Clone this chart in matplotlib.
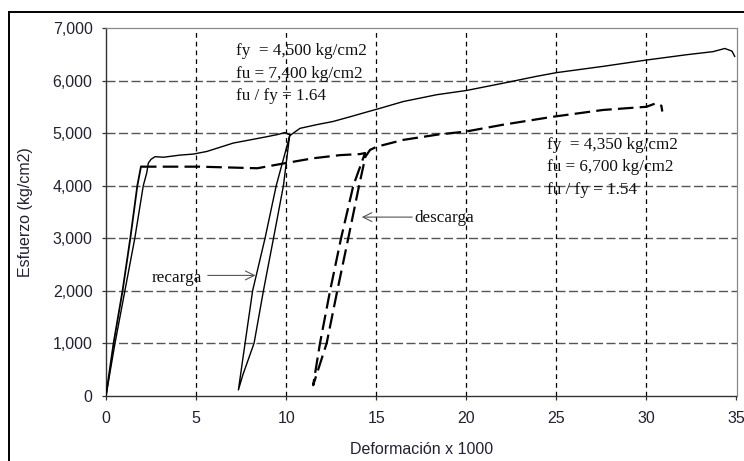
import matplotlib
matplotlib.use("Agg")
import matplotlib.pyplot as plt
from matplotlib.lines import Line2D
from matplotlib.ticker import FuncFormatter

# Specimen A (solid): loading, yield plateau, unload/reload loop, hardening
strain_a = [0, 0.5, 1.05, 1.6, 2.07, 2.26, 2.35, 2.5, 2.72, 3.2, 4.1, 4.85, 5.6,
            7.07, 8.0, 8.92, 9.5, 9.94, 10.1, 10.2,
            9.85, 9.3, 8.74, 8.22, 7.6, 7.35,
            7.72, 8.14, 8.83, 9.45, 10.2,
            10.4, 10.77, 11.7, 12.6, 13.55, 14.47, 15.2, 16.5, 18.36, 20.0,
            22.06, 23.9, 25.0, 27.6, 30.0, 32.2, 33.7, 34.35, 34.75, 34.9]
stress_a = [0, 1000, 2000, 3000, 4000, 4240, 4430, 4500, 4550, 4540, 4580, 4600, 4650,
            4810, 4870, 4930, 4970, 5010, 4980, 4970,
            4000, 3000, 2000, 1000, 400, 110,
            1000, 2000, 3000, 4000, 4950,
            5000, 5090, 5160, 5220, 5310, 5400, 5470, 5600, 5730, 5810,
            5950, 6080, 6150, 6270, 6390, 6490, 6550, 6610, 6560, 6460]

# Specimen B (dashed); the first segment is the elastic loading branch
strain_b = [0, 0.42, 0.92, 1.35, 1.74, 1.94, 2.0, 5.2, 8.4, 10.0, 11.5, 13.0, 14.1, 14.38,
            13.73, 13.05, 12.44, 11.88, 11.5,
            12.25, 12.84, 13.45, 14.05, 14.4, 14.66, 15.03, 16.5, 18.4, 20.0,
            22.06, 24.8, 27.6, 30.0, 30.55, 30.83, 30.88]
stress_b = [0, 1000, 2000, 3000, 4000, 4360, 4360, 4360, 4330, 4430, 4520, 4580, 4600, 4620,
            4000, 3000, 2000, 1000, 200,
            1000, 2000, 3000, 4000, 4550, 4680, 4740, 4870, 4970, 5030,
            5160, 5310, 5440, 5500, 5570, 5520, 5410]
elastic_end_b = 6

x_ticks = [0, 5, 10, 15, 20, 25, 30, 35]
y_ticks = [0, 1000, 2000, 3000, 4000, 5000, 6000, 7000]

label_a = ["fy  = 4,500 kg/cm2", "fu = 7,400 kg/cm2", "fu / fy = 1.64"]
label_b = ["fy  = 4,350 kg/cm2", "fu = 6,700 kg/cm2", "fu / fy = 1.54"]

sans = ["Liberation Sans", "DejaVu Sans"]
serif = ["Liberation Serif", "DejaVu Serif"]
tick_color = "#222233"
note_color = "#111111"

fig = plt.figure(figsize=(7.44, 4.61), dpi=100)
ax = fig.add_axes([106 / 744, 1 - 395.7 / 461, (736.5 - 106) / 744, (395.7 - 28) / 461])

# grid
for yv in y_ticks[1:-1]:
    ax.axhline(yv, color="#555555", lw=1.0, dashes=(6.5, 2.5), zorder=1)
for xv in x_ticks[1:-1]:
    ax.axvline(xv, color="black", lw=0.9, dashes=(3.8, 3.2), zorder=1)

ax.plot(strain_a, stress_a, color="black", lw=1.0, zorder=3)
ax.plot(strain_b[:elastic_end_b], stress_b[:elastic_end_b], color="black", lw=1.3, zorder=3)
ln_b, = ax.plot(strain_b[elastic_end_b - 1:], stress_b[elastic_end_b - 1:],
                color="black", lw=1.6, zorder=3)
ln_b.set_dashes((7.0, 2.8))

ax.set_xlim(0, 35)
ax.set_ylim(0, 7000)
ax.set_xticks(x_ticks)
ax.set_yticks(y_ticks)
ax.yaxis.set_major_formatter(FuncFormatter(lambda v, p: f"{int(v):,}"))
ax.tick_params(axis="both", direction="out", length=3.2, width=0.9, color="#333333",
               labelsize=11.5, labelcolor=tick_color)
ax.tick_params(axis="x", pad=7.5)
ax.tick_params(axis="y", pad=6.5)
for lab in ax.get_xticklabels() + ax.get_yticklabels():
    lab.set_family(sans)

for side in ("left", "bottom"):
    ax.spines[side].set_color("#333333")
    ax.spines[side].set_linewidth(1.0)
for side in ("top", "right"):
    ax.spines[side].set_color("#888888")
    ax.spines[side].set_linewidth(0.9)

ax.set_xlabel("Deformación x 1000", family=sans, fontsize=11.5, color=tick_color, labelpad=12)
ax.set_ylabel("Esfuerzo (kg/cm2)", family=sans, fontsize=11.5, color=tick_color)
ax.yaxis.set_label_coords(-(106 - 33) / 630.5, 0.5)


def note_block(x, y_first, lines, step=428):
    for i, line in enumerate(lines):
        ax.text(x, y_first - i * step, line, family=serif, fontsize=12.3,
                color=note_color, va="center", ha="left")


note_block(7.2, 6560, label_a)
note_block(24.5, 4780, label_b)

arrow_kw = dict(arrowstyle="->", color="#555555", lw=0.8, mutation_scale=16,
                shrinkA=0, shrinkB=0)
ax.annotate("", xy=(8.3, 2290), xytext=(5.65, 2290), arrowprops=arrow_kw)
ax.text(2.55, 2250, "recarga", family=serif, fontsize=12.3, color=note_color,
        va="center", ha="left")
ax.annotate("", xy=(14.2, 3400), xytext=(17.0, 3400), arrowprops=arrow_kw)
ax.text(17.12, 3390, "descarga", family=serif, fontsize=12.3, color=note_color,
        va="center", ha="left")

# outer frame
fig.add_artist(Line2D([9 / 744, 1.0], [1 - 12 / 461, 1 - 12 / 461], color="black", lw=1.4,
                      transform=fig.transFigure))
fig.add_artist(Line2D([9 / 744, 9 / 744], [0, 1 - 12 / 461], color="black", lw=1.4,
                      transform=fig.transFigure))

fig.savefig("out.png", dpi=100)
